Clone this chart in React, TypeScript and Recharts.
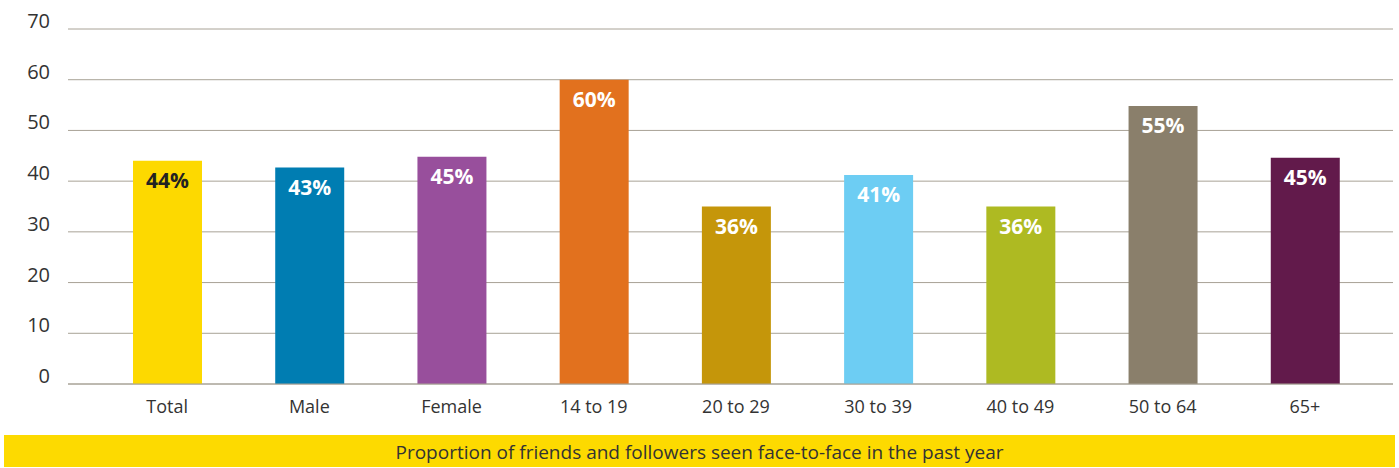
import React from "react";
import {
  BarChart,
  Bar,
  XAxis,
  YAxis,
  CartesianGrid,
  Cell,
  LabelList,
} from "recharts";

const categories = [
  "Total",
  "Male",
  "Female",
  "14 to 19",
  "20 to 29",
  "30 to 39",
  "40 to 49",
  "50 to 64",
  "65+",
];
const values = [44, 42.7, 44.8, 60, 35, 41.2, 35, 54.8, 44.6];
const labels = ["44%", "43%", "45%", "60%", "36%", "41%", "36%", "55%", "45%"];
const colors = [
  "#FDD900",
  "#007DB2",
  "#984F9C",
  "#E2711E",
  "#C5960A",
  "#6DCDF3",
  "#AEBA22",
  "#8A7F6B",
  "#621A4B",
];
const yTicks = [0, 10, 20, 30, 40, 50, 60, 70];
const caption = "Proportion of friends and followers seen face-to-face in the past year";

const data = categories.map((name, i) => ({
  name,
  value: values[i],
  label: labels[i],
}));

const YTick = (props: any) => {
  const { x, y, payload } = props;
  return (
    <text
      x={x}
      y={y - 8}
      dy="0.35em"
      textAnchor="end"
      fill="#333"
      fontSize={20}
      fontFamily="Open Sans"
    >
      {payload.value}
    </text>
  );
};

const XTick = (props: any) => {
  const { x, y, payload } = props;
  return (
    <text
      x={x}
      y={y + 23}
      dy="0.35em"
      textAnchor="middle"
      fill="#333"
      fontSize={18}
      fontFamily="Open Sans"
    >
      {payload.value}
    </text>
  );
};

const BarLabel = (props: any) => {
  const { x, y, width, value, index } = props;
  return (
    <text
      x={x + width / 2}
      y={y + 20}
      dy="0.35em"
      textAnchor="middle"
      fill={index === 0 ? "#222" : "#fff"}
      fontSize={21}
      fontWeight={700}
      fontFamily="Open Sans"
    >
      {value}
    </text>
  );
};

export default function App() {
  return (
    <div style={{ position: "absolute", left: 0, top: 0, width: 1399, height: 468, background: "#fff" }}>
      <BarChart
        width={1399}
        height={430}
        data={data}
        margin={{ top: 29, right: 6, left: 0, bottom: 16 }}
      >
        <CartesianGrid vertical={false} stroke="#a8a296" />
        <XAxis
          dataKey="name"
          height={30}
          padding={{ left: 28, right: 17 }}
          axisLine={{ stroke: "#a8a296" }}
          tickLine={false}
          tickSize={0}
          tickMargin={0}
          tick={<XTick />}
          interval={0}
        />
        <YAxis
          width={68}
          domain={[0, 70]}
          ticks={yTicks}
          axisLine={false}
          tickLine={false}
          tickSize={0}
          tickMargin={18}
          tick={<YTick />}
        />
        <Bar dataKey="value" barSize={69} isAnimationActive={false}>
          {data.map((d, i) => (
            <Cell key={d.name} fill={colors[i]} />
          ))}
          <LabelList dataKey="label" content={<BarLabel />} />
        </Bar>
      </BarChart>
      <div
        style={{
          position: "absolute",
          left: 4,
          top: 435,
          width: 1391,
          height: 32,
          background: "#FDDA00",
          color: "#333",
          fontFamily: "Open Sans",
          fontSize: 19,
          lineHeight: "34px",
          textAlign: "center",
        }}
      >
        {caption}
      </div>
    </div>
  );
}
